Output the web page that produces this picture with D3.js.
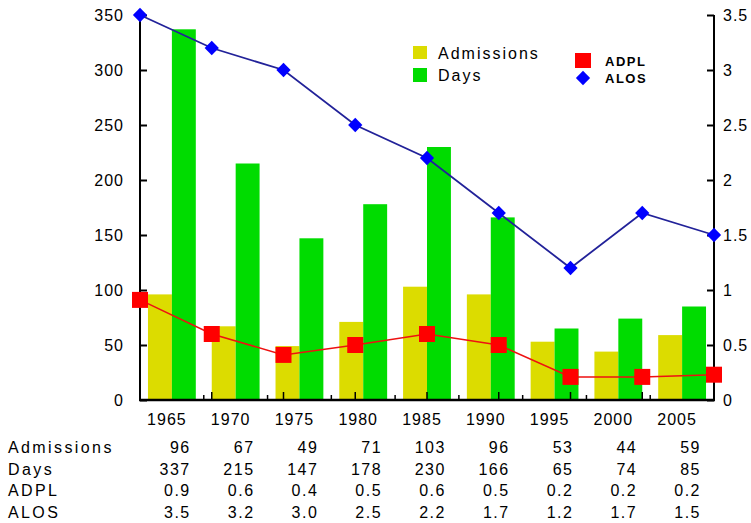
<!DOCTYPE html>
<html>
<head>
<meta charset="utf-8">
<script src="https://cdn.jsdelivr.net/npm/d3@7/dist/d3.min.js"></script>
<style>
  body { margin: 0; background: #fff; }
  svg { display: block; }
  text { font-family: "Liberation Sans", Arial, sans-serif; fill: #000; }
</style>
</head>
<body>
<svg id="chart" width="751" height="523"></svg>
<script>
const years = ["1965","1970","1975","1980","1985","1990","1995","2000","2005"];
const admissions = [96, 67, 49, 71, 103, 96, 53, 44, 59];
const days = [337, 215, 147, 178, 230, 166, 65, 74, 85];
const adpl = [0.91, 0.6, 0.41, 0.5, 0.6, 0.5, 0.21, 0.21, 0.23];
const alos = [3.5, 3.2, 3.0, 2.5, 2.2, 1.7, 1.2, 1.7, 1.5];
const leftTicks = [0, 50, 100, 150, 200, 250, 300, 350];
const rightTicks = [0, 0.5, 1, 1.5, 2, 2.5, 3, 3.5];
const tableRows = [
  { label: "Admissions", values: admissions.map(String) },
  { label: "Days", values: days.map(String) },
  { label: "ADPL", values: adpl.map(v => v.toFixed(1)) },
  { label: "ALOS", values: alos.map(v => v.toFixed(1)) }
];

const colors = { adm: "#dcdc00", days: "#00dc00", adpl: "#ff0000", adplLine: "#ee1111", alos: "#0000ff", alosLine: "#222299" };

const svg = d3.select("#chart");
const x0 = 140, x1 = 714, yTop = 15, yBot = 400;

const xBand = d3.scaleBand().domain(years).range([x0, x1]).paddingInner(0.25).paddingOuter(0.125);
const xOuter = d3.scaleBand().domain(years).range([x0, x1]);
const xSub = d3.scaleBand().domain(["adm", "days"]).range([0, xBand.bandwidth()]);
const xPt = d3.scalePoint().domain(years).range([x0, x1]);
const yL = d3.scaleLinear().domain([0, 350]).range([yBot, yTop]);
const yR = d3.scaleLinear().domain([0, 3.5]).range([yBot, yTop]);

// bars
const g = svg.append("g");
years.forEach((yr, i) => {
  g.append("rect").attr("x", xBand(yr) + xSub("adm")).attr("y", yL(admissions[i]))
    .attr("width", xSub.bandwidth()).attr("height", yL(0) - yL(admissions[i]) - 1).attr("fill", colors.adm);
  g.append("rect").attr("x", xBand(yr) + xSub("days")).attr("y", yL(days[i]))
    .attr("width", xSub.bandwidth()).attr("height", yL(0) - yL(days[i]) - 1).attr("fill", colors.days);
});

// axes
const font = "16px";
const axL = svg.append("g").attr("transform", `translate(${x0},0)`)
  .call(d3.axisRight(yL).tickValues(leftTicks).tickSize(7).tickFormat(d3.format("d")));
axL.selectAll("text").remove();
axL.select(".domain").attr("d", `M0,${yTop}V${yBot}`).attr("stroke-width", 2);
axL.selectAll(".tick line").attr("stroke-width", 2);
leftTicks.forEach(t => {
  svg.append("text").attr("x", 124).attr("y", yL(t)).attr("dy", "0.36em")
    .attr("text-anchor", "end").style("font-size", font).style("letter-spacing", "1px").text(t);
});

const axR = svg.append("g").attr("transform", `translate(${x1},0)`)
  .call(d3.axisLeft(yR).tickValues(rightTicks).tickSize(7));
axR.selectAll("text").remove();
axR.select(".domain").attr("d", `M0,${yTop}V${yBot}`).attr("stroke-width", 2);
axR.selectAll(".tick line").attr("stroke-width", 2);
rightTicks.forEach(t => {
  svg.append("text").attr("x", 723).attr("y", yR(t)).attr("dy", "0.36em")
    .attr("text-anchor", "start").style("font-size", font).style("letter-spacing", "1px").text(t);
});

// x axis
svg.append("line").attr("x1", x0 - 1).attr("x2", x1 + 1).attr("y1", yBot).attr("y2", yBot)
  .attr("stroke", "#000").attr("stroke-width", 2.5);
years.slice(1).forEach(yr => {
  svg.append("line").attr("x1", xOuter(yr)).attr("x2", xOuter(yr)).attr("y1", yBot).attr("y2", yBot - 5)
    .attr("stroke", "#000").attr("stroke-width", 1.5);
});
years.slice(1, -1).forEach(yr => {
  svg.append("line").attr("x1", xPt(yr)).attr("x2", xPt(yr)).attr("y1", yBot).attr("y2", yBot - 8)
    .attr("stroke", "#000").attr("stroke-width", 1.5);
});
years.forEach(yr => {
  svg.append("text").attr("x", xOuter(yr) + xOuter.bandwidth() / 2 - 5).attr("y", 425)
    .attr("text-anchor", "middle").style("font-size", font).style("letter-spacing", "1px").text(yr);
});

// lines
const lineL = d3.line().x((d, i) => xPt(years[i])).y(d => yR(d));
svg.append("path").datum(adpl).attr("d", lineL).attr("fill", "none")
  .attr("stroke", colors.adplLine).attr("stroke-width", 1.5);
svg.append("path").datum(alos).attr("d", lineL).attr("fill", "none")
  .attr("stroke", colors.alosLine).attr("stroke-width", 1.8);

adpl.forEach((v, i) => {
  svg.append("rect").attr("x", xPt(years[i]) - 8).attr("y", yR(v) - 8).attr("width", 16).attr("height", 16)
    .attr("fill", colors.adpl);
});
const diamond = d3.symbol().type(d3.symbolDiamond2).size(130);
alos.forEach((v, i) => {
  svg.append("path").attr("d", diamond).attr("transform", `translate(${xPt(years[i])},${yR(v)})`)
    .attr("fill", colors.alos);
});

// legend
svg.append("rect").attr("x", 413).attr("y", 46).attr("width", 14).attr("height", 13).attr("fill", colors.adm);
svg.append("text").attr("x", 438).attr("y", 59).style("font-size", font).style("letter-spacing", "2px").text("Admissions");
svg.append("rect").attr("x", 413).attr("y", 68).attr("width", 14).attr("height", 14).attr("fill", colors.days);
svg.append("text").attr("x", 438).attr("y", 81).style("font-size", font).style("letter-spacing", "2px").text("Days");

svg.append("rect").attr("x", 575).attr("y", 53).attr("width", 16).attr("height", 15).attr("fill", colors.adpl);
svg.append("text").attr("x", 605).attr("y", 66).style("font-size", "13px").style("font-weight", "bold").style("letter-spacing", "1.5px").text("ADPL");
svg.append("path").attr("d", diamond).attr("transform", "translate(583,78)").attr("fill", colors.alos);
svg.append("text").attr("x", 605).attr("y", 83).style("font-size", "13px").style("font-weight", "bold").style("letter-spacing", "1.5px").text("ALOS");

// table
const rowY = [453, 474.5, 496, 518];
tableRows.forEach((row, r) => {
  svg.append("text").attr("x", 8).attr("y", rowY[r]).style("font-size", font).style("letter-spacing", "2.4px").text(row.label);
  row.values.forEach((v, i) => {
    svg.append("text").attr("x", xOuter(years[i]) + xOuter.bandwidth() - 13).attr("y", rowY[r])
      .attr("text-anchor", "end").style("font-size", font).style("letter-spacing", "1.5px").text(v);
  });
});
</script>
</body>
</html>
